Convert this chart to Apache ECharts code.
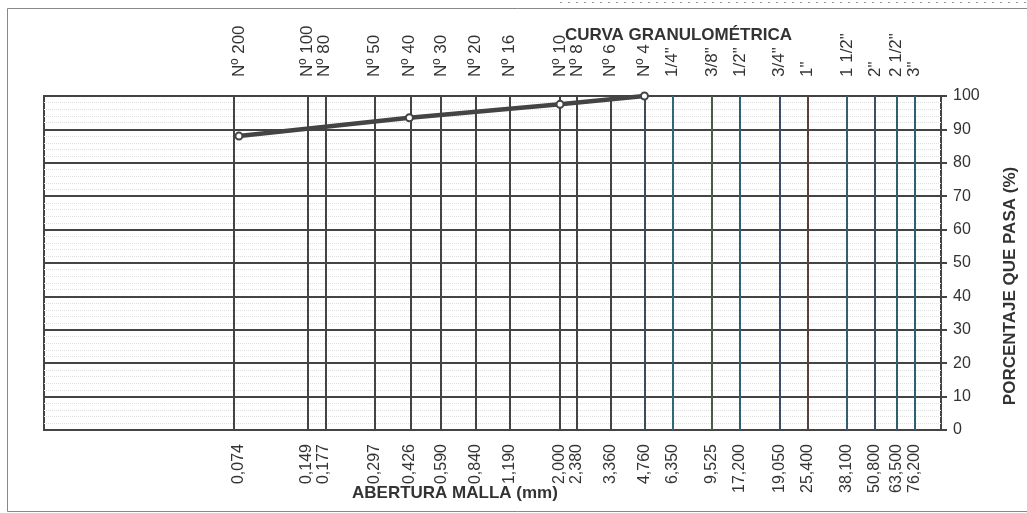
<!DOCTYPE html>
<html>
<head>
<meta charset="utf-8">
<style>
  html, body { margin: 0; padding: 0; background: #fff; }
  #chart { width: 1027px; height: 513px; }
</style>
<script src="https://cdn.jsdelivr.net/npm/echarts@6/dist/echarts.min.js"></script>
</head>
<body>
<div id="chart"></div>
<script>
// Sieve openings (mm) used for the vertical grid lines
const sieveSizes = [0.074, 0.149, 0.177, 0.297, 0.426, 0.59, 0.84, 1.19, 2.0, 2.38, 3.36, 4.76,
                    6.35, 9.525, 12.7, 19.05, 25.4, 38.1, 50.8, 63.5, 76.2];
// Sieve designations (top labels)
const sieveNames = ['Nº 200', 'Nº 100', 'Nº 80', 'Nº 50', 'Nº 40', 'Nº 30', 'Nº 20', 'Nº 16', 'Nº 10', 'Nº 8', 'Nº 6', 'Nº 4',
                    '1/4"', '3/8"', '1/2"', '3/4"', '1"', '1 1/2"', '2"', '2 1/2"', '3"'];
// Opening labels (bottom labels)
const openingLabels = ['0,074', '0,149', '0,177', '0,297', '0,426', '0,590', '0,840', '1,190', '2,000', '2,380', '3,360', '4,760',
                       '6,350', '9,525', '17,200', '19,050', '25,400', '38,100', '50,800', '63,500', '76,200'];
// Test results: sieve opening (mm) and percent passing
const testSizes = [0.074, 0.426, 2.0, 4.76];
const percentPassing = [88, 93.5, 97.5, 100];
// Percent-passing axis ticks
const yTicks = [0, 10, 20, 30, 40, 50, 60, 70, 80, 90, 100];

// Grid line colours, one per sieve
const sieveLineColors = ['#444', '#444', '#444', '#444', '#444', '#444', '#444', '#444', '#444', '#444', '#444', '#3d4c55',
                         '#2f6a7a', '#4d5a44', '#2f5f75', '#3a4f66', '#5a3f40', '#355f70', '#3f4f5f', '#2f6070', '#2f5f70'];

function nearestIndex(v) {
  let best = 0, bestD = Infinity;
  for (let i = 0; i < sieveSizes.length; i++) {
    const d = Math.abs(Math.log(v) - Math.log(sieveSizes[i]));
    if (d < bestD) { bestD = d; best = i; }
  }
  return best;
}

const FONT = '"Liberation Sans", Arial, sans-serif';
const chart = echarts.init(document.getElementById('chart'));

chart.setOption({
  backgroundColor: '#fff',
  animation: false,
  title: [
    {
      text: 'CURVA GRANULOMÉTRICA',
      left: 560, top: 22,
      textStyle: { fontFamily: FONT, fontSize: 17, fontWeight: 'bold', color: '#333' }
    },
    {
      text: 'ABERTURA MALLA (mm)',
      left: 347, top: 480,
      textStyle: { fontFamily: FONT, fontSize: 17, fontWeight: 'bold', color: '#333' }
    }
  ],
  graphic: [
    {
      type: 'rect', silent: true, z: -10,
      shape: { x: 7.5, y: 8.5, width: 1100, height: 503 },
      style: { fill: null, stroke: '#888', lineWidth: 1 }
    },
    {
      type: 'line', silent: true, z: -10,
      shape: { x1: 560, y1: 2.5, x2: 1027, y2: 2.5 },
      style: { stroke: '#999', lineWidth: 1, lineDash: [2, 6] }
    }
  ],
  grid: {
    left: 44, right: 85, top: 96, bottom: 83,
    show: true, borderColor: '#444', borderWidth: 2, backgroundColor: 'transparent'
  },
  xAxis: [
    {
      type: 'log', logBase: 10, min: 0.01, max: 100, position: 'bottom',
      axisLine: { show: false }, axisTick: { show: false }, splitLine: { show: false },
      axisLabel: {
        customValues: sieveSizes, rotate: 90, margin: 14,
        fontFamily: FONT, fontSize: 16, color: '#333',
        formatter: v => openingLabels[nearestIndex(v)]
      }
    },
    {
      type: 'log', logBase: 10, min: 0.01, max: 100, position: 'top',
      axisLine: { show: false }, axisTick: { show: false }, splitLine: { show: false },
      axisLabel: {
        customValues: sieveSizes, rotate: -90, margin: 19,
        fontFamily: FONT, fontSize: 17, color: '#333',
        formatter: v => sieveNames[nearestIndex(v)]
      }
    }
  ],
  yAxis: {
    type: 'value', position: 'right', min: yTicks[0], max: yTicks[yTicks.length - 1], interval: 10,
    name: 'PORCENTAJE QUE PASA (%)', nameLocation: 'middle', nameGap: 61, nameRotate: 90,
    nameTextStyle: { fontFamily: FONT, fontSize: 17, fontWeight: 'bold', color: '#333', padding: [0, 46, 0, 0] },
    axisLine: { show: false },
    axisTick: { show: true, length: 6, lineStyle: { color: '#444', width: 2 } },
    axisLabel: { margin: 12, fontFamily: FONT, fontSize: 16, color: '#333' },
    splitLine: { show: true, lineStyle: { color: '#444', width: 2 } },
    minorTick: { show: false, splitNumber: 5 },
    minorSplitLine: { show: true, lineStyle: { color: '#dedede', width: 1, type: 'dotted' } }
  },
  series: [
    {
      type: 'line',
      xAxisIndex: 0,
      data: testSizes.map((s, i) => [s, percentPassing[i]]),
      symbol: 'emptyCircle', symbolSize: 7,
      lineStyle: { color: '#444', width: 4.5 },
      itemStyle: { color: '#444', borderColor: '#444', borderWidth: 1.5 },
      z: 5,
      markLine: {
        silent: true, symbol: ['none', 'none'], label: { show: false },
        animation: false,
        data: sieveSizes.map((s, i) => ({ xAxis: s, lineStyle: { color: sieveLineColors[i], width: 2, type: 'solid' } }))
      }
    }
  ]
});
</script>
</body>
</html>
